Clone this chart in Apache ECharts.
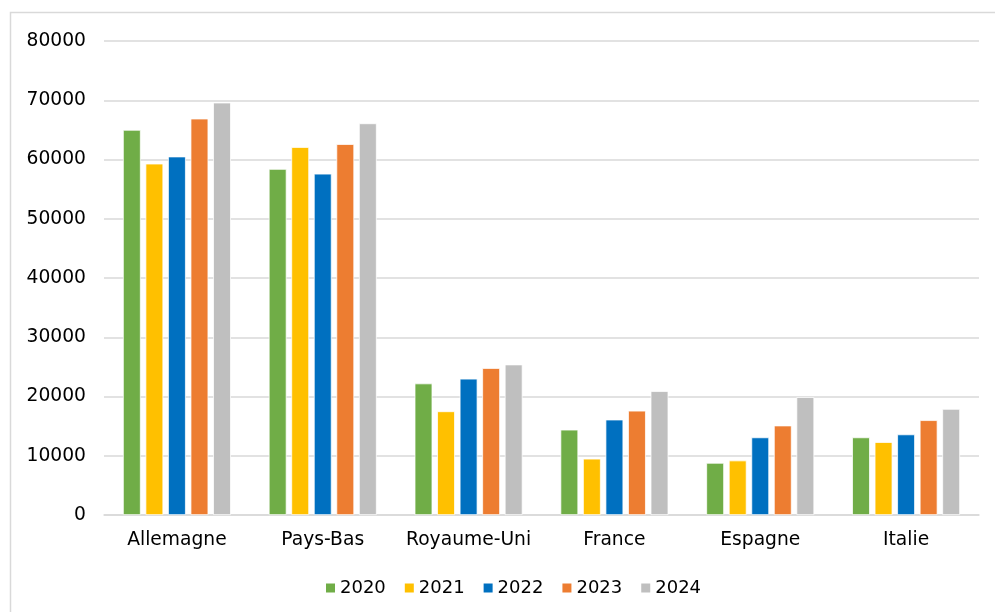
<!DOCTYPE html>
<html>
<head>
<meta charset="utf-8">
<script src="https://cdn.jsdelivr.net/npm/echarts@6/dist/echarts.min.js"></script>
<style>
html,body{margin:0;padding:0;background:#fff;}
#main{width:995px;height:612px;}
</style>
</head>
<body>
<div id="main"></div>
<script>
const categories = ['Allemagne', 'Pays-Bas', 'Royaume-Uni', 'France', 'Espagne', 'Italie'];
const years = ['2020', '2021', '2022', '2023', '2024'];
const v2020 = [65000, 58400, 22200, 14400, 8800, 13100];
const v2021 = [59300, 62100, 17500, 9500, 9200, 12300];
const v2022 = [60500, 57600, 23000, 16100, 13100, 13600];
const v2023 = [66900, 62600, 24800, 17600, 15100, 16000];
const v2024 = [69600, 66100, 25400, 20900, 19900, 17900];
const seriesValues = [v2020, v2021, v2022, v2023, v2024];
const colors = ['#70AD47', '#FFC000', '#0070C0', '#ED7D31', '#BFBFBF'];

const chart = echarts.init(document.getElementById('main'));
const font = 'DejaVu Sans, Verdana, sans-serif';
chart.setOption({
  animation: false,
  color: colors,
  textStyle: { fontFamily: font },
  graphic: [{
    type: 'rect', silent: true, z: -10,
    shape: { x: 10.5, y: 12.5, width: 1000, height: 700 },
    style: { fill: 'none', stroke: '#d9d9d9', lineWidth: 1.5 }
  }],
  grid: { left: 104, right: 16, top: 41, bottom: 97 },
  legend: {
    data: years,
    top: 574,
    left: 319,
    itemWidth: 11, itemHeight: 11, itemGap: 17,
    icon: 'rect',
    textStyle: { fontSize: 18, color: '#000', fontFamily: font, padding: [0, 0, 0, -1] }
  },
  xAxis: {
    type: 'category',
    data: categories,
    axisLine: { lineStyle: { color: '#d9d9d9', width: 1.5 } },
    axisTick: { show: false },
    axisLabel: { fontSize: 18.7, color: '#000', margin: 16, fontFamily: font, interval: 0 }
  },
  yAxis: {
    type: 'value',
    min: 0, max: 80000, interval: 10000,
    axisLine: { show: false },
    axisTick: { show: false },
    axisLabel: { fontSize: 18.7, color: '#000', margin: 18, fontFamily: font, formatter: (v) => String(v) },
    splitLine: { lineStyle: { color: '#d9d9d9', width: 1.5 } }
  },
  series: years.map((y, i) => ({
    name: y,
    type: 'bar',
    data: seriesValues[i],
    barGap: '27%',
    barCategoryGap: '26%',
    itemStyle: { color: colors[i], borderColor: '#fff', borderWidth: 0.75 }
  }))
});
</script>
</body>
</html>
